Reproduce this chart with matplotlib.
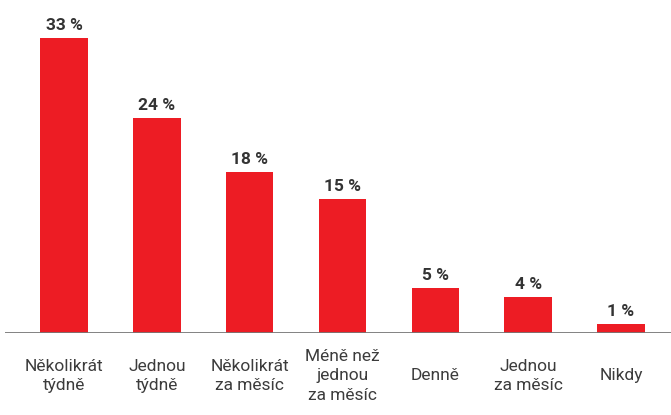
import matplotlib.pyplot as plt
import numpy as np

categories = ['Několikrát\ntýdně', 'Jednou\ntýdně', 'Několikrát\nza měsíc',
              'Méně než\njednou\nza měsíc', 'Denně', 'Jednou\nza měsíc', 'Nikdy']
values = [33, 24, 18, 15, 5, 4, 1]

plt.rcParams['font.family'] = ['Liberation Sans Narrow', 'Roboto', 'DejaVu Sans']

fig = plt.figure(figsize=(6.71, 4.15), dpi=100)
ax = fig.add_axes([5 / 671, 82 / 415, 666 / 671, 333 / 415])

x = np.arange(len(values))
ax.bar(x, values, width=0.51, color='#ed1c24', zorder=2)

for xi, v in zip(x, values):
    ax.text(xi, v + 0.6, f'{v} %', ha='center', va='bottom',
            fontsize=12.5, fontweight='bold', color='#333333')

# category labels, vertically centred under the axis line
for xi, lab in zip(x, categories):
    ax.text(xi, -4.8, lab, ha='center', va='center', fontsize=12.5,
            color='#3c3c3c', linespacing=1.4)

ax.set_xlim(-0.636, 6.54)
ax.set_ylim(0, 37.25)
ax.axhline(0, color='#777777', linewidth=2, zorder=3)
for s in ax.spines.values():
    s.set_visible(False)
ax.set_xticks([])
ax.set_yticks([])

fig.savefig('out.png', dpi=100)
